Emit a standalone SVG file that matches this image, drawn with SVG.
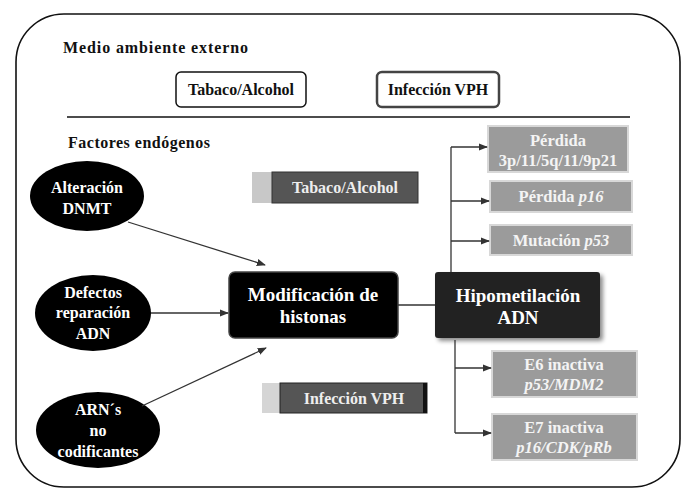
<svg xmlns="http://www.w3.org/2000/svg" width="691" height="495" viewBox="0 0 691 495" font-family="'Liberation Serif','DejaVu Serif',serif">
<defs>
<style>
text{font-family:"Liberation Serif","DejaVu Serif",serif;font-weight:bold;text-anchor:middle}
.lbl{font-size:16px;fill:#111;text-anchor:start}
.w{fill:#fff;font-size:16px}
.b{fill:#fff;font-size:19px}
.g{fill:#f4f4f4;font-size:16.5px}
.i{font-style:italic}
.gbox{fill:#9b9b9b;stroke:#d8d8d8;stroke-width:2}
.con{stroke:#333;stroke-width:1.3;fill:none}
</style>
<marker id="ah" viewBox="0 0 10 10" refX="9" refY="5" markerWidth="7" markerHeight="7" orient="auto">
<path d="M0,1 L10,5 L0,9 z" fill="#333"/>
</marker>
<filter id="sh" x="-10%" y="-10%" width="130%" height="140%">
<feDropShadow dx="3" dy="3" stdDeviation="2" flood-color="#000" flood-opacity="0.45"/>
</filter>
</defs>
<rect x="0" y="0" width="691" height="495" fill="#fff"/>
<rect x="16" y="14" width="664" height="473" rx="48" ry="48" fill="none" stroke="#111" stroke-width="1.6"/>
<text class="lbl" x="63" y="53" textLength="185" font-weight="normal">Medio ambiente externo</text>
<line x1="67" y1="117" x2="630" y2="117" stroke="#111" stroke-width="1.6"/>
<text class="lbl" x="68" y="148" textLength="142">Factores endógenos</text>

<g id="ext-tabaco">
<rect x="176" y="72" width="130" height="35" rx="5" fill="#fff" stroke="#111" stroke-width="1.5"/>
<text x="241" y="95" font-size="16" fill="#111">Tabaco/Alcohol</text>
</g>
<g id="ext-vph">
<rect x="377" y="72" width="122" height="35" rx="5" fill="#fff" stroke="#444" stroke-width="2.5"/>
<text x="438" y="95" font-size="16" fill="#111">Infección VPH</text>
</g>

<g id="dnmt">
<ellipse cx="87" cy="196" rx="57" ry="35" fill="#000"/>
<text class="w" x="87" y="193">Alteración</text>
<text class="w" x="87" y="214">DNMT</text>
</g>
<g id="defectos">
<ellipse cx="93" cy="313" rx="58" ry="38" fill="#000"/>
<text class="w" x="93" y="298">Defectos</text>
<text class="w" x="93" y="318">reparación</text>
<text class="w" x="93" y="339">ADN</text>
</g>
<g id="arn">
<ellipse cx="98" cy="430" rx="62" ry="38" fill="#000"/>
<text class="w" x="98" y="415">ARN´s</text>
<text class="w" x="98" y="436">no</text>
<text class="w" x="98" y="457">codificantes</text>
</g>

<g id="tabaco-int">
<rect x="252" y="172" width="22" height="31" fill="#c8c8c8"/>
<rect x="272" y="172" width="146" height="31" fill="#555" stroke="#333" stroke-width="1"/>
<text x="345" y="193" font-size="16" fill="#eee">Tabaco/Alcohol</text>
</g>
<g id="vph-int">
<rect x="262" y="383" width="20" height="30" fill="#d5d5d5"/>
<rect x="280" y="383" width="147" height="30" fill="#555" stroke="#222" stroke-width="1"/>
<rect x="423" y="383" width="4" height="30" fill="#111"/>
<text x="354" y="404" font-size="16" fill="#eee">Infección VPH</text>
</g>

<g id="histonas">
<rect x="229" y="272" width="169" height="66" rx="6" fill="#000" stroke="#444" stroke-width="1.5"/>
<text class="b" x="313" y="301">Modificación de</text>
<text class="b" x="313" y="323">histonas</text>
</g>
<g id="hipometilacion">
<rect x="435" y="272" width="165" height="66" rx="3" fill="#222" filter="url(#sh)"/>
<text class="b" x="518" y="302">Hipometilación</text>
<text class="b" x="518" y="324">ADN</text>
</g>

<g id="perdida-3p">
<rect class="gbox" x="488" y="126" width="140" height="46"/>
<text class="g" x="558" y="146">Pérdida</text>
<text class="g" x="558" y="166">3p/11/5q/11/9p21</text>
</g>
<g id="perdida-p16">
<rect class="gbox" x="490" y="181" width="142" height="31"/>
<text class="g" x="561" y="202">Pérdida <tspan class="i">p16</tspan></text>
</g>
<g id="mutacion-p53">
<rect class="gbox" x="490" y="225" width="142" height="30"/>
<text class="g" x="561" y="246">Mutación <tspan class="i">p53</tspan></text>
</g>
<g id="e6">
<rect class="gbox" x="492" y="351" width="145" height="46"/>
<text class="g" x="564" y="370">E6 inactiva</text>
<text class="g i" x="564" y="390">p53/MDM2</text>
</g>
<g id="e7">
<rect class="gbox" x="492" y="414" width="145" height="46"/>
<text class="g" x="564" y="433">E7 inactiva</text>
<text class="g i" x="564" y="453">p16/CDK/pRb</text>
</g>

<g id="connectors">
<line class="con" x1="128" y1="222" x2="265" y2="265" marker-end="url(#ah)"/>
<line class="con" x1="151" y1="313" x2="228" y2="313" marker-end="url(#ah)"/>
<line class="con" x1="142" y1="406" x2="266" y2="348" marker-end="url(#ah)"/>
<line class="con" x1="398" y1="305" x2="435" y2="305"/>
<path class="con" d="M451,272 V147"/>
<line class="con" x1="451" y1="147" x2="487" y2="147" marker-end="url(#ah)"/>
<line class="con" x1="451" y1="201" x2="489" y2="201" marker-end="url(#ah)"/>
<line class="con" x1="451" y1="241" x2="489" y2="241" marker-end="url(#ah)"/>
<path class="con" d="M455,340 V433"/>
<line class="con" x1="455" y1="368" x2="491" y2="368" marker-end="url(#ah)"/>
<line class="con" x1="455" y1="433" x2="491" y2="433" marker-end="url(#ah)"/>
</g>
</svg>
